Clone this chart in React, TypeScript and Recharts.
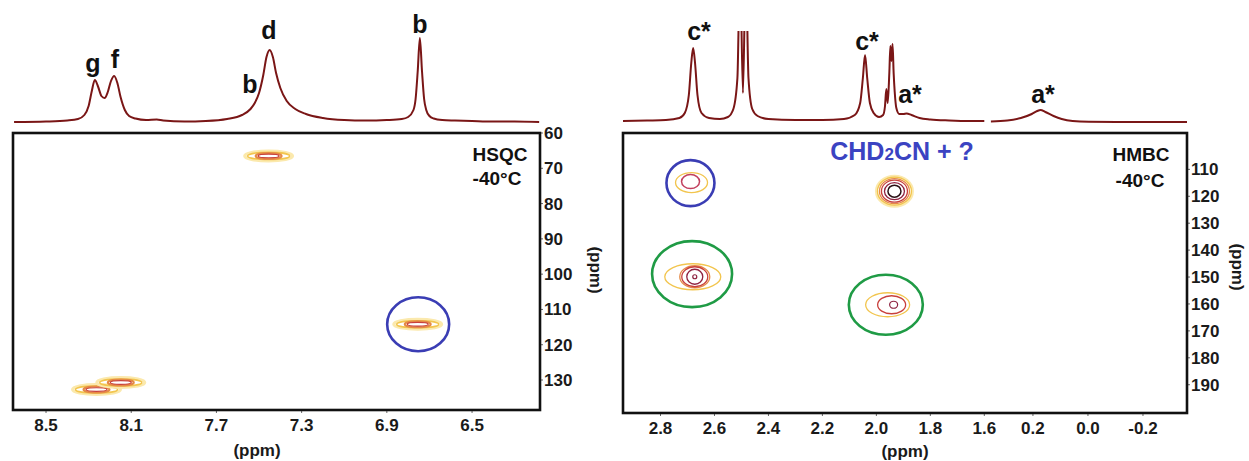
import React from 'react'
import { LineChart, Line, ScatterChart, Scatter, XAxis, YAxis } from 'recharts'

// 1H projection above the HSQC map: [shift ppm, intensity]
const hsqcProjection: [number, number][] = [
  [8.65, 1], [8.5, 1.5], [8.4, 2.5], [8.35, 4], [8.32, 8], [8.3, 17], [8.285, 32], [8.271, 43],
  [8.255, 36], [8.24, 27], [8.225, 25], [8.21, 31], [8.195, 42], [8.18, 47], [8.165, 40],
  [8.15, 26], [8.13, 13], [8.11, 7], [8.08, 4.5], [8.03, 3], [7.98, 3.5], [7.95, 2.5],
  [7.85, 1.5], [7.75, 2], [7.65, 4], [7.58, 8], [7.54, 14], [7.52, 20], [7.5, 30], [7.48, 48],
  [7.465, 66], [7.45, 73], [7.435, 66], [7.42, 50], [7.4, 35], [7.37, 22], [7.33, 14],
  [7.28, 9], [7.2, 5], [7.1, 3], [7.0, 2.5], [6.9, 3], [6.83, 4], [6.8, 6], [6.775, 13],
  [6.765, 24], [6.755, 52], [6.745, 85], [6.735, 52], [6.725, 24], [6.715, 13], [6.7, 7],
  [6.68, 4.5], [6.64, 3], [6.58, 2.5], [6.5, 2], [6.4, 1.5], [6.3, 1.5], [6.185, 1]
]

// 1H projection above the HMBC map, split at the axis break
const hmbcProjectionLeft: [number, number][] = [
  [2.939, 2], [2.85, 2.5], [2.78, 3], [2.73, 5], [2.71, 10], [2.695, 28], [2.686, 60],
  [2.679, 75], [2.672, 60], [2.663, 28], [2.648, 10], [2.62, 5], [2.58, 4], [2.55, 6],
  [2.53, 14], [2.515, 45], [2.505, 160], [2.4945, 30], [2.484, 160], [2.474, 45], [2.46, 14],
  [2.44, 7], [2.4, 4], [2.3, 3], [2.2, 3], [2.12, 4], [2.08, 8], [2.06, 20], [2.05, 45],
  [2.042, 68], [2.034, 45], [2.024, 20], [2.01, 10], [1.99, 6], [1.975, 8], [1.968, 17],
  [1.963, 34], [1.958, 20], [1.952, 50], [1.948, 77], [1.944, 62], [1.94, 79], [1.936, 50],
  [1.932, 31], [1.926, 15], [1.915, 9], [1.9, 9], [1.888, 9.5], [1.87, 8], [1.84, 5],
  [1.8, 3.5], [1.73, 2.5], [1.65, 2], [1.6, 2]
]
const hmbcProjectionRight: [number, number][] = [
  [0.36, 1.5], [0.3, 2.5], [0.25, 5], [0.21, 9], [0.19, 12], [0.178, 13], [0.16, 11],
  [0.13, 7], [0.1, 4], [0.06, 2], [0.0, 1.2], [-0.1, 1], [-0.36, 1]
]

// cross peaks [1H ppm, 13C ppm]
const hsqcPeaks: [number, number][] = [[7.455, 66.5], [6.755, 114.2], [8.263, 132.7], [8.149, 130.7]]
const hsqcMarked: [number, number][] = [[6.753, 114.2]]
const hmbcPeaks: [number, number][] = [[2.685, 114.9], [1.933, 118.1], [2.673, 149.9], [1.936, 160.3]]
const hmbcBlueMarks: [number, number][] = [[2.689, 115.1]]
const hmbcGreenMarks: [number, number][] = [[2.683, 148.9], [1.965, 160.3]]

const hsqcXTicks = [8.5, 8.1, 7.7, 7.3, 6.9, 6.5]
const hsqcYTicks = [60, 70, 80, 90, 100, 110, 120, 130]
const hmbcXTicksLeft = [2.8, 2.6, 2.4, 2.2, 2.0, 1.8, 1.6]
const hmbcXTicksRight = [0.2, 0.0, -0.2]
const hmbcYTicks = [110, 120, 130, 140, 150, 160, 170, 180, 190]

const FONT = '"Liberation Sans", Arial, sans-serif'
const tick = { fontFamily: FONT, fontSize: 17, fontWeight: 700, fill: '#1a1a1a' }
const LINE = '#7a1616'
const HSQC_X: [number, number] = [6.181, 8.655]

const toXY = (rows: [number, number][]) => rows.map(([x, y]) => ({ x, y }))

type Ring = { rx: number; ry: number; c: string; w: number; dx?: number; dy?: number }

const rings = (list: Ring[]) => (p: any) => (
  <g>
    {list.map((r, i) => (
      <ellipse key={i} cx={p.cx + (r.dx || 0)} cy={p.cy + (r.dy || 0)} rx={r.rx} ry={r.ry}
        fill="none" stroke={r.c} strokeWidth={r.w} />
    ))}
  </g>
)

const YEL = '#f2c54e'
const PALE = '#fbe9ad'
const ORG = '#e58a46'
const RED = '#c8403c'
const MAR = '#8e2240'

const hsqcSpot: Ring[] = [
  { rx: 24, ry: 5, c: PALE, w: 3 },
  { rx: 21, ry: 3.6, c: YEL, w: 1.5 },
  { rx: 13, ry: 3, c: ORG, w: 2 },
  { rx: 10.5, ry: 1.8, c: RED, w: 1.2 }
]
const hmbcSpots: Ring[][] = [
  [
    { rx: 16, ry: 10, c: YEL, w: 1.3 },
    { rx: 9, ry: 7, c: '#c2405e', w: 1.5, dx: -1, dy: -1 }
  ],
  [
    { rx: 18, ry: 15, c: PALE, w: 3 },
    { rx: 17, ry: 14, c: YEL, w: 1.3 },
    { rx: 15, ry: 12.5, c: ORG, w: 1.3 },
    { rx: 13, ry: 11, c: RED, w: 1.3 },
    { rx: 10, ry: 8.5, c: MAR, w: 1.3 },
    { rx: 6.5, ry: 6, c: '#2a1015', w: 1.5 }
  ],
  [
    { rx: 28, ry: 13, c: YEL, w: 1.3, dx: -2 },
    { rx: 15, ry: 11, c: ORG, w: 1.3 },
    { rx: 13, ry: 10, c: RED, w: 1.3 },
    { rx: 8, ry: 7.5, c: MAR, w: 1.3 },
    { rx: 2, ry: 2, c: MAR, w: 1.2 }
  ],
  [
    { rx: 22, ry: 12, c: YEL, w: 1.3, dx: -6 },
    { rx: 14, ry: 9, c: RED, w: 1.3, dx: -2 },
    { rx: 4, ry: 3.5, c: MAR, w: 1.2 }
  ]
]

const ring = (rx: number, ry: number, c: string) => (p: any) => (
  <ellipse cx={p.cx} cy={p.cy} rx={rx} ry={ry} fill="none" stroke={c} strokeWidth={2.6} />
)

const abs = (left: number, top: number): React.CSSProperties => ({ position: 'absolute', left, top })

export default function App() {
  return (
    <div style={{ position: 'absolute', left: 0, top: 0, width: 1249, height: 461, background: '#fff', fontFamily: FONT }}>
      {/* HSQC projection */}
      <div style={abs(0, 0)}>
        <LineChart width={560} height={130} data={toXY(hsqcProjection)} margin={{ top: 23, right: 20, bottom: 7, left: 13 }}>
          <XAxis dataKey="x" type="number" domain={HSQC_X} reversed hide allowDataOverflow />
          <YAxis type="number" domain={[0, 100]} hide allowDataOverflow />
          <Line dataKey="y" type="monotone" stroke={LINE} strokeWidth={2} dot={false} isAnimationActive={false} />
        </LineChart>
      </div>

      {/* HSQC map */}
      <div style={abs(0, 120)}>
        <ScatterChart width={620} height={341} margin={{ top: 13, right: 20, bottom: 21, left: 13 }}>
          <XAxis dataKey="x" type="number" domain={HSQC_X} reversed allowDataOverflow
            ticks={hsqcXTicks} tickFormatter={(v: number) => v.toFixed(1)} tick={tick}
            axisLine={false} tickSize={3} tickMargin={6} height={30} interval={0} />
          <YAxis dataKey="y" type="number" orientation="right" domain={[60, 138.5]} reversed allowDataOverflow
            ticks={hsqcYTicks} tick={tick} axisLine={false} tickSize={3} tickMargin={1} width={60} interval={0} />
          <Scatter data={toXY(hsqcPeaks)} shape={rings(hsqcSpot)} isAnimationActive={false} />
          <Scatter data={toXY(hsqcMarked)} shape={ring(31, 27, '#3a3db4')} isAnimationActive={false} />
        </ScatterChart>
      </div>

      {/* HMBC projection, both sides of the break */}
      <div style={abs(600, 0)}>
        <LineChart width={400} height={130} data={toXY(hmbcProjectionLeft)} margin={{ top: 31, right: 13, bottom: 7, left: 23 }}>
          <XAxis dataKey="x" type="number" domain={[1.59, 2.939]} reversed hide allowDataOverflow />
          <YAxis type="number" domain={[0, 92]} hide allowDataOverflow />
          <Line dataKey="y" type="monotone" stroke={LINE} strokeWidth={2} dot={false} isAnimationActive={false} />
        </LineChart>
      </div>
      <div style={abs(975, 0)}>
        <LineChart width={230} height={130} data={toXY(hmbcProjectionRight)} margin={{ top: 31, right: 18, bottom: 7, left: 14 }}>
          <XAxis dataKey="x" type="number" domain={[-0.36, 0.367]} reversed hide allowDataOverflow />
          <YAxis type="number" domain={[0, 92]} hide allowDataOverflow />
          <Line dataKey="y" type="monotone" stroke={LINE} strokeWidth={2} dot={false} isAnimationActive={false} />
        </LineChart>
      </div>

      {/* HMBC map */}
      <div style={abs(600, 120)}>
        <ScatterChart width={400} height={341} margin={{ top: 13, right: 13, bottom: 18, left: 23 }}>
          <XAxis dataKey="x" type="number" domain={[1.59, 2.939]} reversed allowDataOverflow
            ticks={hmbcXTicksLeft} tickFormatter={(v: number) => v.toFixed(1)} tick={tick}
            axisLine={false} tickSize={3} tickMargin={6} height={30} interval={0} />
          <YAxis dataKey="y" type="number" domain={[96.5, 200.5]} reversed hide allowDataOverflow />
          {hmbcPeaks.map((p, i) => (
            <Scatter key={i} data={toXY([p])} shape={rings(hmbcSpots[i])} isAnimationActive={false} />
          ))}
          <Scatter data={toXY(hmbcBlueMarks)} shape={ring(24, 23, '#3a3db4')} isAnimationActive={false} />
          <Scatter data={toXY(hmbcGreenMarks.slice(0, 1))} shape={ring(40, 33, '#1f9b45')} isAnimationActive={false} />
          <Scatter data={toXY(hmbcGreenMarks.slice(1))} shape={ring(37, 30, '#1f9b45')} isAnimationActive={false} />
        </ScatterChart>
      </div>
      <div style={abs(975, 120)}>
        <ScatterChart width={274} height={341} margin={{ top: 13, right: 12, bottom: 18, left: 12 }}>
          <XAxis dataKey="x" type="number" domain={[-0.36, 0.367]} reversed allowDataOverflow
            ticks={hmbcXTicksRight} tickFormatter={(v: number) => v.toFixed(1)} tick={tick}
            axisLine={false} tickSize={3} tickMargin={6} height={30} interval={0} />
          <YAxis dataKey="y" type="number" orientation="right" domain={[96.5, 200.5]} reversed allowDataOverflow
            ticks={hmbcYTicks} tick={tick} axisLine={false} tickSize={3} tickMargin={1} width={50} interval={0} />
          <Scatter data={[]} isAnimationActive={false} />
        </ScatterChart>
      </div>

      {/* frames and annotations */}
      <svg width={1249} height={461} style={{ position: 'absolute', left: 0, top: 0, pointerEvents: 'none' }}
        fontFamily={FONT} fontWeight={700}>
        <rect x={13} y={133} width={527} height={277} fill="none" stroke="#111" strokeWidth={2.6} />
        <rect x={623} y={133} width={564} height={280} fill="none" stroke="#111" strokeWidth={2.6} />

        <g fontSize={25} fill="#111" textAnchor="middle">
          <text x={93} y={72}>g</text>
          <text x={115} y={68}>f</text>
          <text x={269} y={39}>d</text>
          <text x={250} y={93}>b</text>
          <text x={420} y={33}>b</text>
          <text x={699} y={40}>c*</text>
          <text x={867} y={50}>c*</text>
          <text x={910} y={103}>a*</text>
          <text x={1043} y={103}>a*</text>
        </g>

        <g fontSize={19} fill="#111" textAnchor="middle">
          <text x={500} y={161}>HSQC</text>
          <text x={497} y={185}>-40°C</text>
          <text x={1141} y={161}>HMBC</text>
          <text x={1140} y={187}>-40°C</text>
        </g>

        <text x={902} y={160} fontSize={25} fill="#3b43c2" textAnchor="middle">
          CHD<tspan fontSize={17}>2</tspan>CN + ?
        </text>

        <g fontSize={17} fill="#1a1a1a" textAnchor="middle">
          <text x={257} y={456}>(ppm)</text>
          <text x={905} y={457}>(ppm)</text>
          <text x={0} y={0} transform="translate(590 270) rotate(90)">(ppm)</text>
          <text x={0} y={0} transform="translate(1232 267) rotate(90)">(ppm)</text>
        </g>
      </svg>
    </div>
  )
}
